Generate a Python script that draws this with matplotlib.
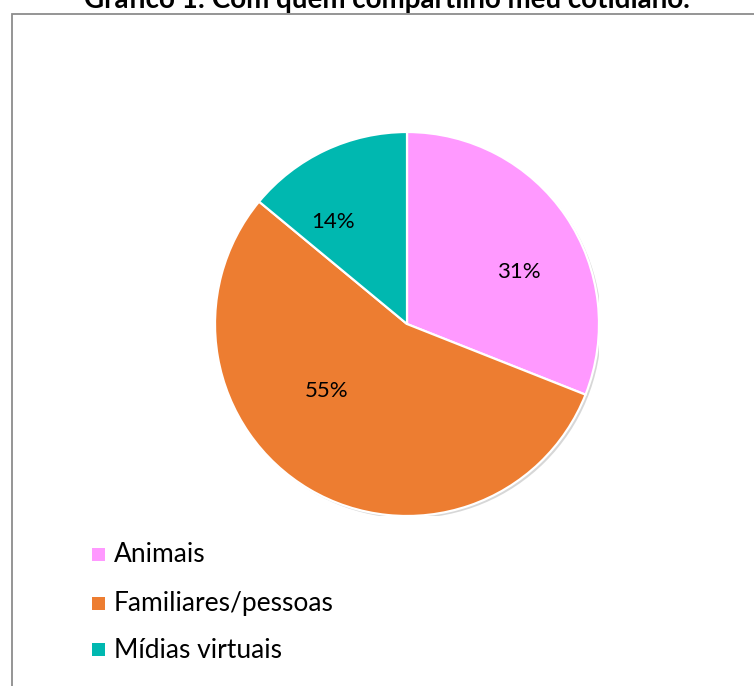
import matplotlib.pyplot as plt
from matplotlib.patches import Rectangle, Circle

# chart data
categorias = ["Animais", "Familiares/pessoas", "Mídias virtuais"]
percentuais = [31, 55, 14]
cores = ["#FF99FF", "#ED7D31", "#00B8B0"]
titulo = "Gráfico 1: Com quem compartilho meu cotidiano."

W, H = 754, 686
fig = plt.figure(figsize=(W / 100, H / 100), dpi=100)
fig.patch.set_facecolor("white")

# outer chart frame (runs off the right and bottom edges)
fig.patches.append(Rectangle((12 / W, -0.01), 1.0, (H - 14) / H + 0.01,
                             transform=fig.transFigure, fill=False,
                             edgecolor="#8c8c8c", linewidth=1.3))

fig.text(387 / W, 1.0, titulo, ha="center", va="center",
         fontsize=20, fontweight="bold", family="Lato")

# pie area: center (407, 324), radius 192 px
R = 192
cx, cy = 407, 324
ax = fig.add_axes([(cx - R) / W, (H - cy - R) / H, 2 * R / W, 2 * R / H])

wedges, textos, autotextos = ax.pie(
    percentuais, colors=cores, startangle=90, counterclock=False,
    radius=1.0, autopct="%d%%",
    wedgeprops=dict(edgecolor="white", linewidth=1.6),
    textprops=dict(fontsize=16, family="Lato", color="black"))
for w in wedges:
    w.set_zorder(1)

# faint shadow under the pie
ax.add_patch(Circle((0.012, -0.012), 1.0, facecolor="#bdbdbd",
                    edgecolor="none", alpha=0.6, zorder=0))

ax.set_xlim(-1, 1)
ax.set_ylim(-1, 1)
ax.set_aspect("equal")
ax.axis("off")

# label positions (data units of the pie axes)
pos = [(0.58, 0.27), (-0.42, -0.35), (-0.385, 0.53)]
for t, (x, y) in zip(autotextos, pos):
    t.set_position((x, y))
    t.set_ha("center")
    t.set_va("center")

# legend on the left, below the pie
ys = [555, 604, 650]
for nome, cor, y in zip(categorias, cores, ys):
    fig.patches.append(Rectangle((92 / W, (H - y - 6) / H), 13 / W, 13 / H,
                                 transform=fig.transFigure,
                                 facecolor=cor, edgecolor="none"))
    fig.text(114 / W, (H - y) / H, nome, ha="left", va="center",
             fontsize=19, family="Lato")

fig.savefig("out.png", dpi=100)
